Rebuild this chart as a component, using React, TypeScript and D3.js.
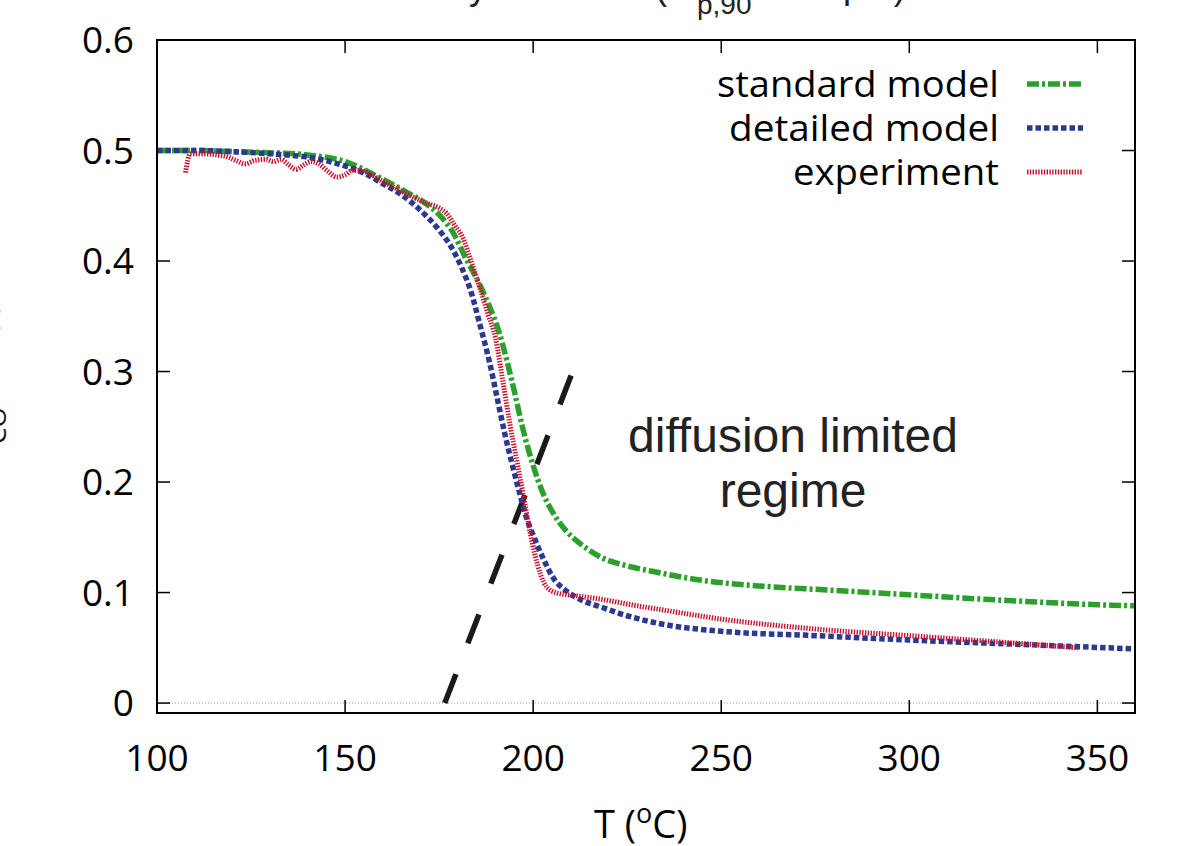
import * as d3 from "d3";

// standard model
const T_STD = [100, 110, 120, 130, 140, 150, 160, 166, 171, 175, 179, 182, 185, 188.5, 191, 193, 195, 197.2, 200, 202.6, 205.3, 209, 213, 218, 224, 232, 245, 260, 280, 300, 325, 350, 360];
const Y_STD = [0.5, 0.5, 0.499, 0.498, 0.496, 0.49, 0.474, 0.463, 0.453, 0.442, 0.424, 0.403, 0.384, 0.358, 0.335, 0.31, 0.282, 0.249, 0.215, 0.19, 0.172, 0.155, 0.143, 0.132, 0.125, 0.119, 0.111, 0.106, 0.102, 0.098, 0.093, 0.089, 0.088];

// detailed model
const T_DET = [100, 110, 120, 130, 140, 150, 156, 160, 165, 170, 175, 178, 181, 183.5, 185.8, 188.5, 190.5, 192.5, 194.5, 196.4, 198, 200, 202.5, 205.2, 209, 213, 218, 225, 235, 250, 275, 300, 330, 360];
const Y_DET = [0.5, 0.5, 0.499, 0.497, 0.494, 0.486, 0.478, 0.47, 0.46, 0.446, 0.428, 0.414, 0.394, 0.372, 0.343, 0.307, 0.275, 0.243, 0.215, 0.19, 0.17, 0.152, 0.132, 0.114, 0.101, 0.093, 0.087, 0.079, 0.071, 0.065, 0.061, 0.057, 0.053, 0.049];

// experiment
const T_EXP = [107.6, 108.8, 112, 116, 119, 121, 123.5, 126, 129, 131, 133, 135, 137, 139, 141, 143, 145.5, 147.8, 150, 152, 154, 157, 160, 164, 168, 172, 175, 177, 179, 181.3, 183.5, 185.8, 188, 190, 192, 193.8, 195.6, 197.3, 199.1, 200.5, 202, 203.6, 206, 211.6, 218, 226, 235, 250, 275, 300, 325, 345];
const Y_EXP = [0.48, 0.497, 0.497, 0.496, 0.494, 0.491, 0.488, 0.491, 0.492, 0.49, 0.492, 0.487, 0.483, 0.487, 0.49, 0.488, 0.481, 0.476, 0.478, 0.482, 0.482, 0.478, 0.472, 0.465, 0.458, 0.452, 0.448, 0.443, 0.433, 0.421, 0.4, 0.376, 0.352, 0.33, 0.29, 0.253, 0.22, 0.19, 0.156, 0.134, 0.116, 0.105, 0.1, 0.097, 0.094, 0.089, 0.084, 0.076, 0.067, 0.061, 0.055, 0.05];

// diffusion limit guide line
const T_GUIDE = [176.5, 210.5];
const Y_GUIDE = [0, 0.3];

const X_TICKS = [100, 150, 200, 250, 300, 350];
const Y_TICKS = [0, 0.1, 0.2, 0.3, 0.4, 0.5, 0.6];

const LEGEND_LABELS = ["standard model", "detailed model", "experiment"];
const COLORS = ["#2ca02c", "#2b3990", "#c8102e"];
const DASHES = ["12,3,3,3", "5.5,3", "1.4,1.4"];

const TICK_FONT = "'Open Sans', sans-serif";
const ANNOT_FONT = "'Liberation Sans', Arial, sans-serif";

export default function App() {
  const width = 1191;
  const height = 846;
  const left = 157;
  const right = 1135;
  const top = 40;
  const bottom = 713;

  const x = d3.scaleLinear().domain([100, 360]).range([left, right]);
  const y = d3.scaleLinear().domain([-0.009, 0.6]).range([bottom, top]);

  const line = d3
    .line<[number, number]>()
    .x((d) => x(d[0]))
    .y((d) => y(d[1]))
    .curve(d3.curveMonotoneX);

  const series = [
    { t: T_STD, v: Y_STD },
    { t: T_DET, v: Y_DET },
    { t: T_EXP, v: Y_EXP },
  ];

  const guide = d3
    .line<[number, number]>()
    .x((d) => x(d[0]))
    .y((d) => y(d[1]))(T_GUIDE.map((t, i) => [t, Y_GUIDE[i]] as [number, number]));

  const tickLen = 13;

  return (
    <svg
      width={width}
      height={height}
      style={{ position: "absolute", left: 0, top: 0, background: "#fff" }}
    >
      {/* title, mostly cut off at the top */}
      <text fontFamily={ANNOT_FONT} fontSize={36} fill="#222" y={-1}>
        <tspan x={487} textAnchor="end">Selectivity</tspan>
        <tspan x={655}>(d</tspan>
        <tspan x={697} y={14} fontSize={28}>p,90</tspan>
        <tspan x={775} y={-1}>= 10</tspan>
        <tspan x={843}>μm)</tspan>
      </text>

      {/* y label, mostly cut off at the left */}
      <text transform="rotate(-90)" fontFamily={TICK_FONT} fontSize={36} fill="#111">
        <tspan x={-470} y={-6}>X</tspan>
        <tspan x={-444} y={6} fontSize={26}>CO</tspan>
        <tspan x={-336} y={-6}>(-)</tspan>
      </text>

      {/* zero line */}
      <line x1={left} x2={right} y1={y(0)} y2={y(0)} stroke="#999" strokeWidth={1} strokeDasharray="1,2" />

      {/* ticks */}
      <g stroke="#000" strokeWidth={1.5}>
        {X_TICKS.map((t) => (
          <g key={"x" + t}>
            <line x1={x(t)} x2={x(t)} y1={bottom} y2={bottom - tickLen} />
            <line x1={x(t)} x2={x(t)} y1={top} y2={top + tickLen} />
          </g>
        ))}
        {Y_TICKS.map((t) => (
          <g key={"y" + t}>
            <line x1={left} x2={left + tickLen} y1={y(t)} y2={y(t)} />
            <line x1={right} x2={right - tickLen} y1={y(t)} y2={y(t)} />
          </g>
        ))}
      </g>

      {/* tick labels */}
      <g fontFamily={TICK_FONT} fontSize={37} fill="#000">
        {X_TICKS.map((t) => (
          <text key={"xl" + t} x={x(t)} y={771} textAnchor="middle">
            {t}
          </text>
        ))}
        {Y_TICKS.map((t) => (
          <text key={"yl" + t} x={134} y={y(t) + 13} textAnchor="end">
            {t === 0 ? "0" : t.toFixed(1)}
          </text>
        ))}
      </g>

      {/* x label */}
      <text x={594} y={838} fontFamily={TICK_FONT} fontSize={38} fill="#000">
        T (<tspan dy={-15} fontSize={27}>o</tspan>
        <tspan dy={15}>C)</tspan>
      </text>

      {/* guide line */}
      <path d={guide || ""} stroke="#1a1a1a" strokeWidth={5.5} strokeDasharray="31,33" fill="none" />

      {/* data */}
      {series.map((s, i) => (
        <path
          key={"s" + i}
          d={line(s.t.map((t, j) => [t, s.v[j]] as [number, number])) || ""}
          fill="none"
          stroke={COLORS[i]}
          strokeWidth={i === 2 ? 5 : 5.5}
          strokeDasharray={DASHES[i]}
        />
      ))}

      {/* annotation */}
      <g fontFamily={ANNOT_FONT} fontSize={48} fill="#222" textAnchor="middle">
        <text x={793} y={452}>diffusion limited</text>
        <text x={793} y={507}>regime</text>
      </g>

      {/* legend */}
      <g fontFamily={TICK_FONT} fontSize={36} fill="#000">
        {LEGEND_LABELS.map((lab, i) => (
          <g key={lab}>
            <text x={999} y={97 + i * 44} textAnchor="end" textLength={i === 0 ? 282 : i === 1 ? 270 : 206} lengthAdjust="spacingAndGlyphs">
              {lab}
            </text>
            <line
              x1={1027}
              x2={1083}
              y1={84 + i * 44}
              y2={84 + i * 44}
              stroke={COLORS[i]}
              strokeWidth={i === 2 ? 5 : 5.5}
              strokeDasharray={DASHES[i]}
            />
          </g>
        ))}
      </g>

      {/* frame */}
      <rect x={left} y={top} width={right - left} height={bottom - top} fill="none" stroke="#000" strokeWidth={2} />
    </svg>
  );
}
